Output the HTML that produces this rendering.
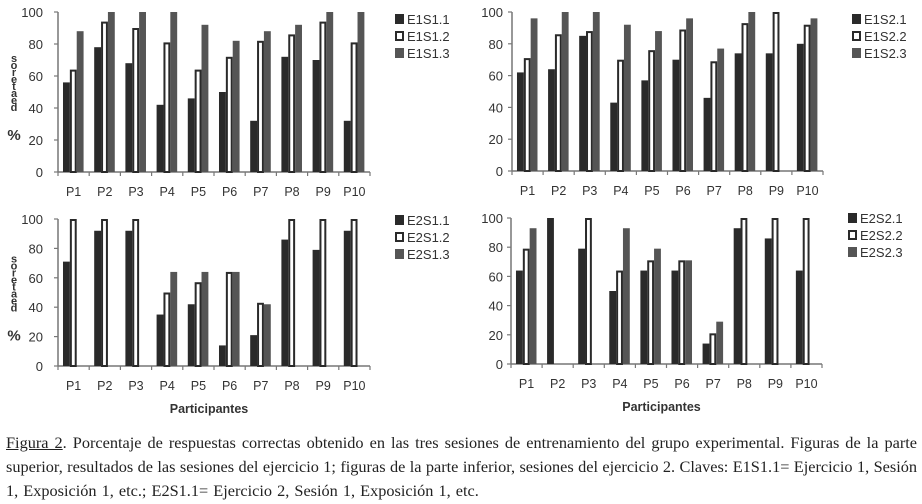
<!DOCTYPE html>
<html><head><meta charset="utf-8"><style>
body{margin:0;width:922px;height:504px;background:#fff;overflow:hidden;position:relative}
svg{position:absolute;left:0;top:0}
#cap{position:absolute;left:6px;top:431px;width:911px;font-family:"Liberation Serif",serif;font-size:16.3px;letter-spacing:0;line-height:24px;color:#222}
#cap div{text-align:justify;text-align-last:justify;white-space:nowrap}
#cap div.last{text-align-last:left;word-spacing:1px}
</style></head><body>
<svg id="chart" width="922" height="430" font-family="Liberation Sans, sans-serif"></svg>
<div id="cap"><div><u>Figura 2</u>. Porcentaje de respuestas correctas obtenido en las tres sesiones de entrenamiento del grupo experimental. Figuras de la parte</div><div>superior, resultados de las sesiones del ejercicio 1; figuras de la parte inferior, sesiones del ejercicio 2. Claves: E1S1.1= Ejercicio 1, Sesión</div><div class="last">1, Exposición 1, etc.; E2S1.1= Ejercicio 2, Sesión 1, Exposición 1, etc.</div></div>
<script>
const categories=["P1","P2","P3","P4","P5","P6","P7","P8","P9","P10"];
const yTicks=[0,20,40,60,80,100];
const c1Names=["E1S1.1","E1S1.2","E1S1.3"];
const c1S1=[56,78,68,42,46,50,32,72,70,32];
const c1S2=[64,94,90,81,64,72,82,86,94,81];
const c1S3=[88,100,100,100,92,82,88,92,100,100];
const c2Names=["E1S2.1","E1S2.2","E1S2.3"];
const c2S1=[62,64,85,43,57,70,46,74,74,80];
const c2S2=[71,86,88,70,76,89,69,93,100,92];
const c2S3=[96,100,100,92,88,96,77,100,0,96];
const c3Names=["E2S1.1","E2S1.2","E2S1.3"];
const c3S1=[71,92,92,35,42,14,21,86,79,92];
const c3S2=[100,100,100,50,57,64,43,100,100,100];
const c3S3=[0,0,0,64,64,64,42,0,0,0];
const c4Names=["E2S2.1","E2S2.2","E2S2.3"];
const c4S1=[64,100,79,50,64,64,14,93,86,64];
const c4S2=[79,0,100,64,71,71,21,100,100,100];
const c4S3=[93,0,0,93,79,71,29,0,0,0];

const svg=document.getElementById('chart');
const NS='http://www.w3.org/2000/svg';
function mk(tag,attrs,parent){const e=document.createElementNS(NS,tag);for(const k in attrs)e.setAttribute(k,attrs[k]);(parent||svg).appendChild(e);return e;}
const fills=["#2a2a2a","#fff","#555"];

function drawChart(id,x0,x1,yTop,yBot,series,names,legX,legY,yLabX,showTitle,showYTitle){
  const g=mk('g',{});
  
  
  const ys=v=>yBot-(v/100)*(yBot-yTop);
  const cw=(x1-x0)/categories.length;
  const xs=i=>x0+i*cw;
  const ax=mk('line',{x1:x0,y1:yTop,x2:x0,y2:yBot,stroke:'#777','stroke-width':1.5},g);
  
  yTicks.forEach(t=>{
    mk('line',{x1:x0-4,y1:ys(t),x2:x0,y2:ys(t),stroke:'#777','stroke-width':1.2},g);
    const tx=mk('text',{x:yLabX,y:ys(t)+5,'text-anchor':'end','font-size':13,fill:'#333'},g);
    tx.textContent=t;
    
  });
  const xa=mk('line',{x1:x0,y1:yBot,x2:x1,y2:yBot,stroke:'#777','stroke-width':1.5},g);
  
  for(let i=0;i<=categories.length;i++) mk('line',{x1:xs(i),y1:yBot,x2:xs(i),y2:yBot+4,stroke:'#777','stroke-width':1.2},g);
  const bw=cw*0.22;
  categories.forEach((c,i)=>{
    const tx=mk('text',{x:xs(i)+cw/2,y:yBot+24,'text-anchor':'middle','font-size':12.5,fill:'#333'},g);
    tx.textContent=c;
    
    series.forEach((s,k)=>{
      const v=s[i]; if(!v) return;
      const bx=xs(i)+cw*0.16+k*bw;
      let r;
      if(k===1) r=mk('rect',{x:bx+1,y:ys(v)+1,width:bw-2,height:yBot-ys(v)-1,fill:'#fff',stroke:'#2a2a2a','stroke-width':2},g);
      else r=mk('rect',{x:bx,y:ys(v),width:bw,height:yBot-ys(v),fill:fills[k]},g);
      
      
    });
  });
  names.forEach((n,k)=>{
    const ly=legY+k*17;
    const lg=mk('g',{},g);
    
    if(k===1) mk('rect',{x:legX+1,y:ly-8,width:7,height:8,fill:'#fff',stroke:'#2a2a2a','stroke-width':2},lg);
    else mk('rect',{x:legX,y:ly-9,width:9,height:10,fill:fills[k]},lg);
    const t=mk('text',{x:legX+12,y:ly+1,'font-size':13,fill:'#333'},lg);
    t.textContent=n;
  });
  if(showTitle){
    const t=mk('text',{x:(x0+x1)/2-5,y:yBot+47,'text-anchor':'middle','font-size':12.5,'font-weight':'bold',fill:'#333'},g);
    t.textContent='Participantes';
    
  }
  if(showYTitle){
    const yt=mk('g',{},g);
    
    const chars=['s','o','r','e','t','a','e','d','%'];
    const top=(yTop+yBot)/2-30;
    chars.forEach((ch,j)=>{
      const t=mk('text',{x:14,y:top+j*(ch==='%'?9:7)+(ch==='%'?6:0),'text-anchor':'middle','font-size':ch==='%'?15:11,'font-weight':'bold',fill:'#333'},yt);
      t.textContent=ch;
    });
  }
}
drawChart('chart-e1s1',58,370,12,172,[c1S1,c1S2,c1S3],c1Names,395,23,43,false,true);
drawChart('chart-e1s2',512,823,12,171,[c2S1,c2S2,c2S3],c2Names,852,23,503,false,false);
drawChart('chart-e2s1',58,370,219,366,[c3S1,c3S2,c3S3],c3Names,395,224,43,true,true);
drawChart('chart-e2s2',511,822,218,364,[c4S1,c4S2,c4S3],c4Names,848,222,503,true,false);
</script>
</body></html>
